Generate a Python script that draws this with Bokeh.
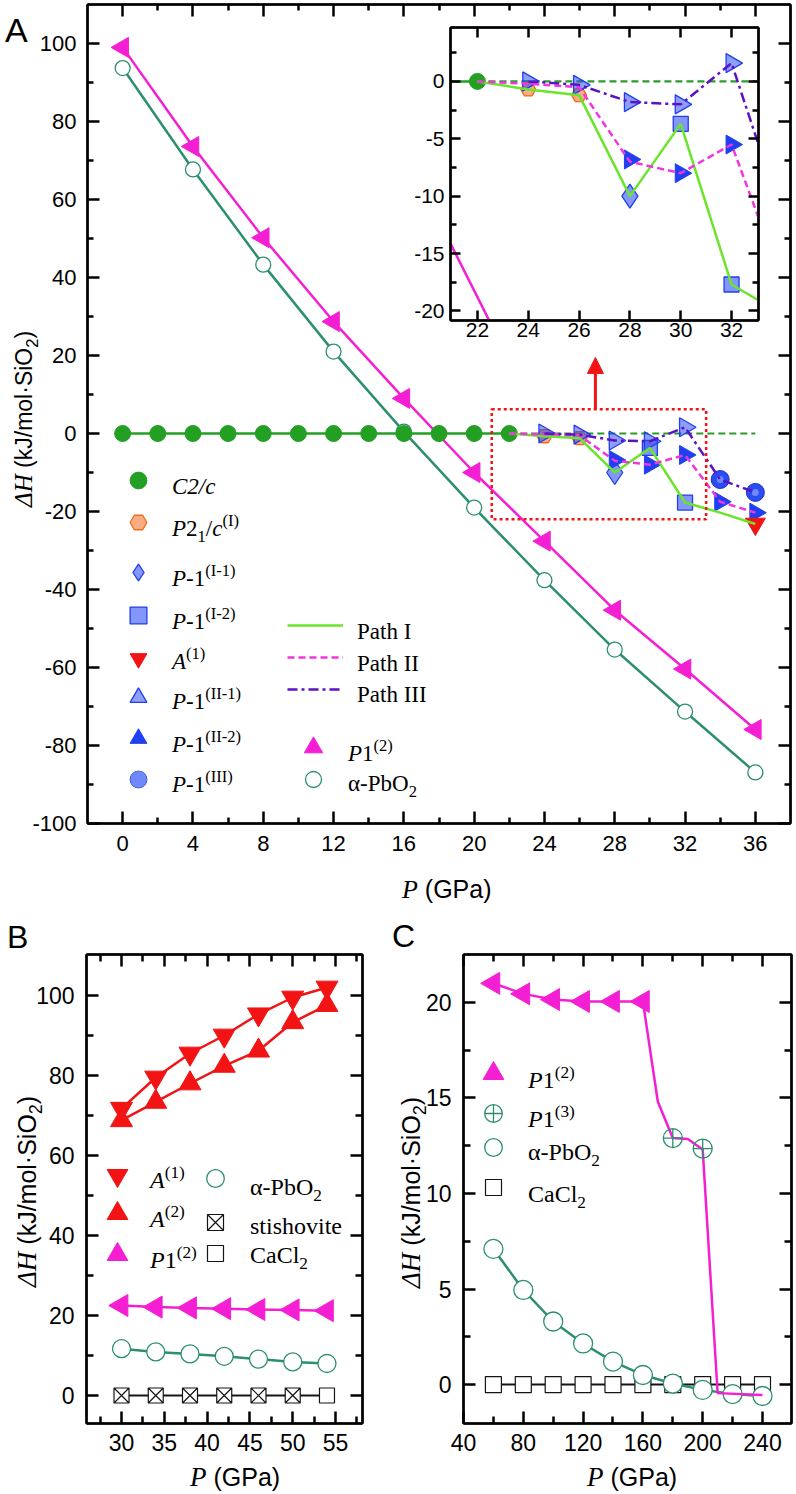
import math
from bokeh.plotting import figure
from bokeh.layouts import column, row
from bokeh.models import (Range1d, FixedTicker, LinearAxis, Legend, LegendItem,
                          BoxAnnotation, Arrow, NormalHead, Div)
from bokeh.embed import file_html
from bokeh.resources import INLINE

# ---------------- Panel A data (P in GPa, dH in kJ/mol SiO2) ----------------
P_A = [0, 4, 8, 12, 16, 20, 24, 28, 32, 36]
H_A_P1_2 = [99.0, 73.6, 50.2, 28.7, 9.0, -10.0, -27.6, -45.3, -60.4, -75.9]
H_A_PBO2 = [93.7, 67.7, 43.3, 21.0, 0.5, -19.0, -37.6, -55.4, -71.3, -86.9]
P_A_C2C = [0, 2, 4, 6, 8, 10, 12, 14, 16, 18, 20, 22]
H_A_C2C = [0, 0, 0, 0, 0, 0, 0, 0, 0, 0, 0, 0]
P_A_REF = [22, 36]
H_A_REF = [0, 0]
P_PATH1 = [22, 24, 26, 28, 30, 32, 34, 36]
H_PATH1 = [0.0, -0.7, -1.2, -10.0, -3.7, -17.7, -20.3, -23.2]
P_PATH2 = [22, 24, 26, 28, 30, 32, 34, 36]
H_PATH2 = [0.0, -0.2, -0.5, -7.0, -8.0, -5.5, -17.5, -20.3]
P_PATH3 = [24, 26, 28, 30, 32, 34, 36]
H_PATH3 = [0.0, -0.3, -1.8, -2.0, 1.6, -11.8, -15.1]
P_P21C = [24, 26]
H_P21C = [-0.7, -1.2]
P_I1 = [28]
H_I1 = [-10.0]
P_I2 = [30, 32]
H_I2 = [-3.7, -17.7]
P_II1 = [24, 26, 28, 30, 32]
H_II1 = [0.0, -0.3, -1.8, -2.0, 1.6]
P_II2 = [28, 30, 32, 34, 36]
H_II2 = [-6.8, -8.0, -5.5, -17.5, -20.3]
P_III = [34, 36]
H_III = [-11.8, -15.1]
P_A_A1 = [36]
H_A_A1 = [-23.2]

# ---------------- Panel B data ----------------
P_B = [30, 34, 38, 42, 46, 50, 54]
H_B_A1 = [71.7, 79.5, 85.5, 90.0, 95.3, 99.5, 102.0]
H_B_A2 = [68.8, 73.4, 78.0, 82.4, 86.2, 93.3, 97.6]
H_B_P1_2 = [22.5, 22.1, 21.9, 21.7, 21.5, 21.4, 21.2]
H_B_PBO2 = [11.7, 10.9, 10.4, 9.8, 9.1, 8.4, 8.0]
P_B_STI = [30, 34, 38, 42, 46, 50]
H_B_STI = [0, 0, 0, 0, 0, 0]
P_B_CACL2 = [54]
H_B_CACL2 = [0]
P_B_REF = [30, 54]
H_B_REF = [0, 0]

# ---------------- Panel C data ----------------
P_C_P1_2 = [60, 80, 100, 120, 140, 160]
H_C_P1_2 = [21.0, 20.45, 20.15, 20.05, 20.05, 20.05]
P_C_P1_2_LINE = [60, 80, 100, 120, 140, 160, 170, 180, 190, 200, 210, 240]
H_C_P1_2_LINE = [21.0, 20.45, 20.15, 20.05, 20.05, 20.05, 14.8, 12.9, 12.85, 12.3, -0.45, -0.55]
P_C_P1_3 = [180, 200]
H_C_P1_3 = [12.9, 12.35]
P_C_PBO2 = [60, 80, 100, 120, 140, 160, 180, 200, 220, 240]
H_C_PBO2 = [7.1, 4.95, 3.3, 2.15, 1.2, 0.5, 0.05, -0.28, -0.5, -0.6]
P_C_CACL2 = [60, 80, 100, 120, 140, 160, 180, 200, 220, 240]
H_C_CACL2 = [0, 0, 0, 0, 0, 0, 0, 0, 0, 0]

# ---------------- ticks and tick labels ----------------
A_X_TICKS = [0, 4, 8, 12, 16, 20, 24, 28, 32, 36]
A_X_LABELS = ["0", "4", "8", "12", "16", "20", "24", "28", "32", "36"]
A_X_MINOR = [2, 6, 10, 14, 18, 22, 26, 30, 34]
A_Y_TICKS = [-100, -80, -60, -40, -20, 0, 20, 40, 60, 80, 100]
A_Y_LABELS = ["-100", "-80", "-60", "-40", "-20", "0", "20", "40", "60", "80", "100"]
A_Y_MINOR = [-90, -70, -50, -30, -10, 10, 30, 50, 70, 90]
IN_X_TICKS = [22, 24, 26, 28, 30, 32]
IN_X_LABELS = ["22", "24", "26", "28", "30", "32"]
IN_Y_TICKS = [-20, -15, -10, -5, 0]
IN_Y_LABELS = ["-20", "-15", "-10", "-5", "0"]
IN_Y_MINOR = [-17.5, -12.5, -7.5, -2.5, 2.5]
B_X_TICKS = [30, 35, 40, 45, 50, 55]
B_X_LABELS = ["30", "35", "40", "45", "50", "55"]
B_X_MINOR = [27.5, 32.5, 37.5, 42.5, 47.5, 52.5, 57.5]
B_Y_TICKS = [0, 20, 40, 60, 80, 100]
B_Y_LABELS = ["0", "20", "40", "60", "80", "100"]
B_Y_MINOR = [10, 30, 50, 70, 90]
C_X_TICKS = [40, 80, 120, 160, 200, 240]
C_X_LABELS = ["40", "80", "120", "160", "200", "240"]
C_X_MINOR = [60, 100, 140, 180, 220]
C_Y_TICKS = [0, 5, 10, 15, 20]
C_Y_LABELS = ["0", "5", "10", "15", "20"]
C_Y_MINOR = [2.5, 7.5, 12.5, 17.5]

# ---------------- colours / fonts ----------------
GREEN = "#23a023"
GREEN_D = "#2c9a2c"
LIME = "#6ae52c"
PINK = "#ef36df"
PURPLE = "#5a12c4"
MAGENTA = "#f41fd3"
TEAL = "#2c8f6e"
BLUE = "#1f3ff0"
ORANGE = "#f36a1c"
RED = "#f21414"
BLACK = "#151515"
SANS = "Liberation Sans"
SERIF = "Liberation Serif"
LEFT = math.pi / 2
RIGHT = -math.pi / 2


def base_fig(fw, fh, xr, yr, bl, br, bt, bb):
    p = figure(frame_width=fw, frame_height=fh, x_range=Range1d(*xr), y_range=Range1d(*yr),
               output_backend="svg", toolbar_location=None,
               min_border_left=bl, min_border_right=br, min_border_top=bt, min_border_bottom=bb)
    p.grid.visible = False
    p.background_fill_color = "white"
    p.border_fill_color = "white"
    p.outline_line_color = "black"
    p.outline_line_width = 2
    return p


def style_axis(ax, major, labels, minor, fs, standoff, tin, tmin, show=True):
    ax.ticker = FixedTicker(ticks=major, minor_ticks=minor)
    ax.axis_line_color = "black"
    ax.axis_line_width = 2.5
    ax.major_tick_line_color = "black"
    ax.major_tick_line_width = 2.5
    ax.minor_tick_line_color = "black"
    ax.minor_tick_line_width = 2.5
    ax.major_tick_in = tin
    ax.major_tick_out = 0
    ax.minor_tick_in = tmin
    ax.minor_tick_out = 0
    ax.major_label_text_font = SANS
    ax.major_label_text_color = "black"
    ax.major_label_text_font_size = fs
    if show:
        ax.major_label_overrides = {t: s for t, s in zip(major, labels)}
        ax.major_label_standoff = standoff
    else:
        ax.major_label_overrides = {t: "" for t in major}
        ax.major_label_standoff = 0


def axes4(p, xt, xl, xm, yt, yl, ym, fs, xso, yso, tin, tmin):
    style_axis(p.xaxis[0], xt, xl, xm, fs, xso, tin, tmin)
    style_axis(p.yaxis[0], yt, yl, ym, fs, yso, tin, tmin)
    top = LinearAxis()
    style_axis(top, xt, xl, xm, fs, 0, tin, tmin, False)
    right = LinearAxis()
    style_axis(right, yt, yl, ym, fs, 0, tin, tmin, False)
    p.add_layout(top, "above")
    p.add_layout(right, "right")


def leg(p, frame, rends, cx, cy, gw, gh):
    """legend swatch centred at page pixel (cx, cy); its text is an HTML label"""
    fl, fb = frame
    L = Legend(items=[LegendItem(label="", renderers=rends)],
               location=(cx - gw / 2 - fl, fb - (cy + gh / 2)),
               glyph_width=gw, glyph_height=gh, label_height=gh, label_width=0,
               label_standoff=0, spacing=0, padding=0, margin=0,
               border_line_color=None, background_fill_alpha=0)
    p.add_layout(L)


DIVS = []


def tdiv(html, left, top, fs, font=SERIF, rotate=False):
    st = {"position": "absolute", "left": f"{left}px", "top": f"{top}px",
          "font-family": f"'{font}'", "font-size": f"{fs}px", "line-height": "1",
          "white-space": "nowrap", "color": "black", "z-index": "10"}
    if rotate:
        st["transform"] = "rotate(-90deg)"
        st["transform-origin"] = "left top"
    DIVS.append(Div(text=html, styles=st))


def sup(s):
    return f'<span style="font-size:72%;vertical-align:0.6em;line-height:0">{s}</span>'


def sub(s):
    return f'<span style="font-size:72%;vertical-align:-0.35em;line-height:0">{s}</span>'


def it(s):
    return f"<i>{s}</i>"


def ptitle(size):
    return (f"<span style=\"font-family:'{SERIF}';font-style:italic;font-size:{size}px;"
            f"line-height:0\">P</span> (GPa)")


def htitle(size):
    return (f"<span style=\"font-family:'{SERIF}';font-style:italic;font-size:{size}px;"
            f"line-height:0\">ΔH</span> (kJ/mol·SiO" + sub("2") + ")")


def draw_A(p):
    r = {}
    p.line(P_A, H_A_PBO2, line_color=TEAL, line_width=2.5)
    r["pbo2"] = p.scatter(P_A, H_A_PBO2, marker="circle", size=15, fill_color="white",
                          line_color=TEAL, line_width=1.3)
    p.line(P_A, H_A_P1_2, line_color=MAGENTA, line_width=2.5)
    r["p1_2"] = p.scatter(P_A, H_A_P1_2, marker="triangle", angle=LEFT, size=20,
                          fill_color=MAGENTA, line_color=MAGENTA)
    p.line(P_A_C2C, H_A_C2C, line_color=GREEN, line_width=2.5)
    p.line(P_A_REF, H_A_REF, line_color=GREEN_D, line_width=2.2, line_dash="7 4")
    r["c2c"] = p.scatter(P_A_C2C, H_A_C2C, marker="circle", size=16, fill_color=GREEN,
                         line_color=GREEN)
    r["p21c"] = p.scatter(P_P21C, H_P21C, marker="hex", size=15, fill_color=ORANGE,
                          fill_alpha=0.55, line_color=ORANGE, line_width=1.3)
    r["i1"] = p.scatter(P_I1, H_I1, marker="diamond", size=24, fill_color=BLUE,
                        fill_alpha=0.55, line_color=BLUE, line_width=1.3)
    r["i2"] = p.scatter(P_I2, H_I2, marker="square", size=15, fill_color=BLUE,
                        fill_alpha=0.55, line_color=BLUE, line_width=1.3)
    r["ii2"] = p.scatter(P_II2, H_II2, marker="triangle", angle=RIGHT, size=19,
                         fill_color=BLUE, line_color=BLUE)
    r["ii1"] = p.scatter(P_II1, H_II1, marker="triangle", angle=RIGHT, size=19,
                         fill_color=BLUE, fill_alpha=0.5, line_color=BLUE, line_width=1.3)
    s1 = p.scatter(P_III, H_III, marker="circle", size=18, fill_color="#2a4cf2",
                   line_color="#1a33c8")
    s2 = p.scatter(P_III, H_III, marker="circle", size=7, fill_color="#9fb0ff",
                   fill_alpha=0.6, line_color=None)
    r["iii"] = [s1, s2]
    r["a1"] = p.scatter(P_A_A1, H_A_A1, marker="inverted_triangle", size=20,
                        fill_color=RED, line_color=RED)
    r["path1"] = p.line(P_PATH1, H_PATH1, line_color=LIME, line_width=2.5)
    r["path2"] = p.line(P_PATH2, H_PATH2, line_color=PINK, line_width=2.5, line_dash="7 4")
    r["path3"] = p.line(P_PATH3, H_PATH3, line_color=PURPLE, line_width=2.5,
                        line_dash="10 4 3 4")
    return r


# ================= Panel A =================
A_LEFT_BORDER = 87
A_RIGHT_BORDER = 6
FA = (87, 823)
pA = base_fig(703, 819, (-2.0, 38.0), (-100.0, 110.0), A_LEFT_BORDER, A_RIGHT_BORDER, 4, 82)
axes4(pA, A_X_TICKS, A_X_LABELS, A_X_MINOR, A_Y_TICKS, A_Y_LABELS, A_Y_MINOR,
      "22px", 12, 11, 12, 6)
rA = draw_A(pA)

pA.add_layout(BoxAnnotation(left=21.0, right=33.2, bottom=-22.0, top=6.2, fill_alpha=0,
                            line_color=RED, line_alpha=1.0, line_width=2.5, line_dash="3 3"))
pA.add_layout(Arrow(end=NormalHead(size=16, fill_color=RED, line_color=RED),
                    x_start=26.9, y_start=6.2, x_end=26.9, y_end=19.5,
                    line_color=RED, line_width=3))

leg(pA, FA, [rA["c2c"]], 138, 480, 42, 42)
leg(pA, FA, [rA["p21c"]], 138, 522, 42, 42)
leg(pA, FA, [rA["i1"]], 138, 572, 42, 42)
leg(pA, FA, [rA["i2"]], 138, 615, 42, 42)
leg(pA, FA, [rA["a1"]], 138, 658, 42, 42)
leg(pA, FA, [rA["ii1"]], 138, 697, 42, 42)
leg(pA, FA, [rA["ii2"]], 138, 738, 42, 42)
leg(pA, FA, rA["iii"], 138, 779, 42, 42)
leg(pA, FA, [rA["path1"]], 315, 625, 56, 24)
leg(pA, FA, [rA["path2"]], 315, 657, 56, 24)
leg(pA, FA, [rA["path3"]], 315, 689, 56, 24)
leg(pA, FA, [rA["p1_2"]], 313, 747, 46, 46)
leg(pA, FA, [rA["pbo2"]], 313, 779, 40, 40)

FL = 23
tdiv(it("C2/c"), 167, 490 - 20, FL)
tdiv(it("P") + "2" + sub("1") + "/" + it("c") + sup("(I)"), 167, 532 - 20, FL)
tdiv(it("P") + "-1" + sup("(I-1)"), 167, 582 - 20, FL)
tdiv(it("P") + "-1" + sup("(I-2)"), 167, 625 - 20, FL)
tdiv(it("A") + sup("(1)"), 167, 665 - 20, FL)
tdiv(it("P") + "-1" + sup("(II-1)"), 167, 705 - 20, FL)
tdiv(it("P") + "-1" + sup("(II-2)"), 167, 748 - 20, FL)
tdiv(it("P") + "-1" + sup("(III)"), 167, 788 - 20, FL)
tdiv("Path I", 352, 635 - 20, FL)
tdiv("Path II", 352, 667 - 20, FL)
tdiv("Path III", 352, 698 - 20, FL)
tdiv(it("P") + "1" + sup("(2)"), 343, 757 - 20, FL)
tdiv("α-PbO" + sub("2"), 343, 787 - 20, FL)

tdiv("A", 0, 8, 34, SANS)
tdiv(ptitle(26), 397, 872, 25, SANS)
tdiv(htitle(25), 8, 502, 23, SANS, rotate=True)

# ================= Inset =================
# the column aligns side borders of its plots, so the inset uses the same ones as panel A
inset = base_fig(308, 293, (20.94, 33.06), (-20.84, 4.7), A_LEFT_BORDER, A_RIGHT_BORDER, 2, 30)
axes4(inset, IN_X_TICKS, IN_X_LABELS, [], IN_Y_TICKS, IN_Y_LABELS, IN_Y_MINOR,
      "21px", 2, 6, 10, 6)
draw_A(inset)
inset.styles = {"position": "absolute", "left": f"{450 - A_LEFT_BORDER}px", "top": "25px",
                "z-index": "5"}

# ================= Panel B =================
FB = (86, 1423)
pB = base_fig(276, 469, (25.91, 58.15), (-7.0, 110.25), 86, 26, 49, 71)
axes4(pB, B_X_TICKS, B_X_LABELS, B_X_MINOR, B_Y_TICKS, B_Y_LABELS, B_Y_MINOR,
      "23px", 10, 12, 12, 7)
pB.line(P_B_REF, H_B_REF, line_color=BLACK, line_width=2)
rb_sti = pB.scatter(P_B_STI, H_B_STI, marker="square_x", size=15, fill_color="white",
                    line_color=BLACK, line_width=1.2)
rb_ca = pB.scatter(P_B_CACL2, H_B_CACL2, marker="square", size=15, fill_color="white",
                   line_color=BLACK, line_width=1.2)
pB.line(P_B, H_B_PBO2, line_color=TEAL, line_width=2.5)
rb_pb = pB.scatter(P_B, H_B_PBO2, marker="circle", size=18, fill_color="white",
                   line_color=TEAL, line_width=1.3)
pB.line(P_B, H_B_P1_2, line_color=MAGENTA, line_width=2.5)
rb_p12 = pB.scatter(P_B, H_B_P1_2, marker="triangle", angle=LEFT, size=22,
                    fill_color=MAGENTA, line_color=MAGENTA)
pB.line(P_B, H_B_A1, line_color=RED, line_width=2.5)
pB.line(P_B, H_B_A2, line_color=RED, line_width=2.5)
rb_a1 = pB.scatter(P_B, H_B_A1, marker="inverted_triangle", size=22, fill_color=RED,
                   line_color=RED)
rb_a2 = pB.scatter(P_B, H_B_A2, marker="triangle", size=22, fill_color=RED, line_color=RED)

leg(pB, FB, [rb_a1], 117, 1175, 52, 52)
leg(pB, FB, [rb_a2], 117, 1213, 52, 52)
leg(pB, FB, [rb_p12], 117, 1254, 52, 52)
leg(pB, FB, [rb_pb], 215, 1178, 44, 44)
leg(pB, FB, [rb_sti], 215, 1222, 40, 40)
leg(pB, FB, [rb_ca], 215, 1253, 40, 40)

FLB = 24
tdiv(it("A") + sup("(1)"), 145, 1183 - 20, FLB)
tdiv(it("A") + sup("(2)"), 145, 1222 - 20, FLB)
tdiv(it("P") + "1" + sup("(2)"), 145, 1263 - 20, FLB)
tdiv("α-PbO" + sub("2"), 245, 1190 - 20, FLB)
tdiv("stishovite", 245, 1229 - 20, FLB)
tdiv("CaCl" + sub("2"), 245, 1258 - 20, FLB)

tdiv("B", 2, 916, 32, SANS)
tdiv(ptitle(27), 185, 1460, 25, SANS)
tdiv(htitle(27), 10, 1282, 25, SANS, rotate=True)

# ================= Panel C =================
FC = (463, 1423)
pC = base_fig(328, 469, (40.0, 259.4), (-2.04, 22.51), 75, 5, 49, 71)
axes4(pC, C_X_TICKS, C_X_LABELS, C_X_MINOR, C_Y_TICKS, C_Y_LABELS, C_Y_MINOR,
      "23px", 10, 12, 12, 7)
pC.line(P_C_CACL2, H_C_CACL2, line_color=BLACK, line_width=2)
rc_ca = pC.scatter(P_C_CACL2, H_C_CACL2, marker="square", size=16, fill_color="white",
                   line_color=BLACK, line_width=1.2)
pC.line(P_C_PBO2, H_C_PBO2, line_color=TEAL, line_width=2.5)
rc_pb = pC.scatter(P_C_PBO2, H_C_PBO2, marker="circle", size=19, fill_color="white",
                   line_color=TEAL, line_width=1.3)
pC.line(P_C_P1_2_LINE, H_C_P1_2_LINE, line_color=MAGENTA, line_width=2.5)
rc_p12 = pC.scatter(P_C_P1_2, H_C_P1_2, marker="triangle", angle=LEFT, size=22,
                    fill_color=MAGENTA, line_color=MAGENTA)
rc_p13 = pC.scatter(P_C_P1_3, H_C_P1_3, marker="circle_cross", size=19, fill_color="white",
                    fill_alpha=0.0, line_color=TEAL, line_width=1.3)

leg(pC, FC, [rc_p12], 493, 1073, 52, 52)
leg(pC, FC, [rc_p13], 493, 1113, 44, 44)
leg(pC, FC, [rc_pb], 493, 1147, 44, 44)
leg(pC, FC, [rc_ca], 493, 1187, 40, 40)

tdiv(it("P") + "1" + sup("(2)"), 523, 1083 - 20, FLB)
tdiv(it("P") + "1" + sup("(3)"), 523, 1122 - 20, FLB)
tdiv("α-PbO" + sub("2"), 523, 1155 - 20, FLB)
tdiv("CaCl" + sub("2"), 523, 1197 - 20, FLB)

tdiv("C", 387, 915, 32, SANS)
tdiv(ptitle(27), 582, 1460, 25, SANS)
tdiv(htitle(27), 394, 1283, 25, SANS, rotate=True)

layout = column(pA, inset, row(pB, pC, spacing=0), *DIVS, spacing=0)
open("out.html", "w").write(file_html(layout, INLINE))
